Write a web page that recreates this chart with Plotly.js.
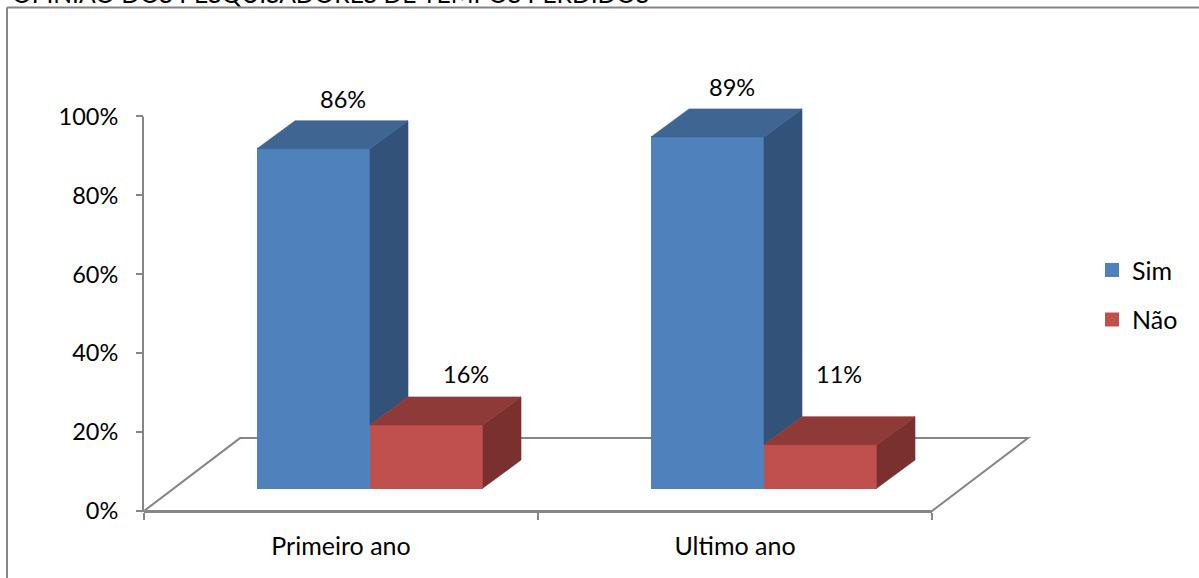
<!DOCTYPE html>
<html>
<head>
<meta charset="utf-8">
<script src="https://cdn.plot.ly/plotly-3.0.1.min.js"></script>
<style>
html,body{margin:0;padding:0;background:#fff;overflow:hidden}
#chart{position:absolute;left:0;top:0;width:1199px;height:578px}
</style>
</head>
<body>
<div id="chart"></div>
<script>
// Data
const categories = ["Primeiro ano", "Ultimo ano"];
const simValues = [86, 89];
const naoValues = [16, 11];
const simLabels = ["86%", "89%"];
const naoLabels = ["16%", "11%"];
const yTicks = [0, 20, 40, 60, 80, 100];
const chartTitle = "OPINIÃO DOS PESQUISADORES DE TEMPOS PERDIDOS";

// Look
const FONT = "Lato, 'Open Sans', sans-serif";
const yMax = 110;                      // headroom above 100% so the 3D tops are not clipped
const M = {l:144, r:267, t:76.5, b:67};
const W = 1199, H = 578;
const pw = W - M.l - M.r, ph = H - M.t - M.b;
const pxX = pw / 2;                    // pixels per category
const pxY = ph / yMax;                 // pixels per percent
const depthX = 38 / pxX, depthY = 28 / pxY;     // bar depth in axis units
const floorX = 96 / pxX, floorY = 73 / pxY;     // floor depth in axis units
const base = 23 / pxY;                 // bars stand on the floor, above the axis
const barW = 113 / pxX;
const simLeft = -84 / pxX;             // left edge of the first bar, from category centre
const LW = 2;                          // outline width of the front faces
const idx = categories.map((_, i) => i);
const paperX = px => (px - M.l) / pw;
const paperY = px => (H - M.b - px) / ph;

// floorVals: height of the neighbouring bar that hides the bottom of this bar's side face
function faces(left, vals, floorVals) {
  const top = {x:[], y:[]}, side = {x:[], y:[]};
  idx.forEach(i => {
    const a = i + left, b = a + barW, t = base + vals[i], f = base + floorVals[i];
    top.x.push(a, b, b + depthX, a + depthX, a, null);
    top.y.push(t, t, t + depthY, t + depthY, t, null);
    side.x.push(b, b + depthX, b + depthX, b, b, null);
    side.y.push(t, t + depthY, f + depthY, f, t, null);
  });
  return {top, side};
}
function poly(f, color, name) {
  return {type:"scatter", mode:"lines", x:f.x, y:f.y, fill:"toself", fillcolor:color,
          line:{color:color, width:0.6}, hoverinfo:"skip", showlegend:false, name:name, cliponaxis:false};
}
function front(name, left, vals, color) {
  return {type:"bar", name:name,
          x:idx.map(i => i + left + barW/2), y:vals, base:idx.map(() => base),
          width:barW - LW/pxX, marker:{color:color, line:{color:color, width:LW}},
          legendgroup:name, hovertemplate:"%{y}%<extra>"+name+"</extra>"};
}
const simF = faces(simLeft, simValues, naoValues);
const naoF = faces(simLeft + barW, naoValues, idx.map(() => 0));

const traces = [
  front("Sim", simLeft, simValues, "#4F81BD"),
  front("Não", simLeft + barW, naoValues, "#C0504D"),
  poly(simF.side, "#32527A", "Sim lado"),
  poly(simF.top, "#3F6593", "Sim topo"),
  poly(naoF.side, "#7A302E", "Não lado"),
  poly(naoF.top, "#8E3A38", "Não topo")
];

// Free-standing data labels: offsets from each bar's top-centre, in pixels
const labelShifts = [
  {dx:[29.5, 24.5], dy:[49.5, 50]},
  {dx:[39.5, 18.5], dy:[51, 71]}
];
function labels(left, vals, texts, shift) {
  return idx.map(i => ({
    x:i + left + barW/2, y:base + vals[i], xref:"x", yref:"y", text:texts[i],
    showarrow:false, xshift:shift.dx[i], yshift:shift.dy[i],
    xanchor:"center", yanchor:"middle", font:{family:FONT, size:23.5, color:"#000"}
  }));
}

const x0 = -0.5, x1 = 1.5;
const layout = {
  width:W, height:H, margin:M, paper_bgcolor:"#fff", plot_bgcolor:"rgba(0,0,0,0)",
  barmode:"overlay", font:{family:FONT, size:23.5, color:"#000"},
  xaxis:{range:[x0, x1], tickmode:"array", tickvals:idx, ticktext:categories, ticks:"",
         tickfont:{family:FONT, size:25, color:"#000"},
         ticklabelstandoff:12, showgrid:false, zeroline:false, showline:true, linecolor:"#868686", linewidth:2,
         minor:{tickmode:"array", tickvals:[-0.5, 0.5, 1.5], ticks:"outside", ticklen:7, tickwidth:1.5, tickcolor:"#868686", showgrid:false},
         fixedrange:true},
  yaxis:{range:[0, yMax], tickmode:"array", tickvals:yTicks, ticktext:yTicks.map(v => v + "%"), ticks:"outside",
         ticklen:7, tickwidth:1.5, tickcolor:"#868686", ticklabelstandoff:13, showgrid:false, zeroline:false,
         showline:false, fixedrange:true},
  legend:{x:paperX(1092), y:paperY(294.5), yanchor:"middle", xanchor:"left",
          orientation:"v", tracegroupgap:14, traceorder:"grouped", itemclick:false, itemdoubleclick:false,
          font:{family:FONT, size:25, color:"#000"}, bgcolor:"rgba(0,0,0,0)", borderwidth:0, itemwidth:30},
  shapes:[{type:"path", layer:"below", xref:"paper", yref:"paper",
           path:`M0,0 L${floorX/(x1-x0)},${floorY/yMax} L${1+floorX/(x1-x0)},${floorY/yMax} L1,0 Z`,
           line:{color:"#868686", width:2}, fillcolor:"rgba(0,0,0,0)"},
          // y-axis line, stopping at 100%
          {type:"line", layer:"below", xref:"paper", yref:"paper",
           x0:paperX(143), x1:paperX(143), y0:0, y1:100/yMax,
           line:{color:"#868686", width:2}},
          // chart-area frame, cropped by the page on its right and bottom sides
          {type:"line", layer:"below", xref:"paper", yref:"paper",
           x0:paperX(7), x1:paperX(W), y0:paperY(7), y1:paperY(7),
           line:{color:"#868686", width:2}},
          {type:"line", layer:"below", xref:"paper", yref:"paper",
           x0:paperX(7), x1:paperX(7), y0:paperY(7), y1:paperY(H),
           line:{color:"#868686", width:2}}],
  annotations:labels(simLeft, simValues, simLabels, labelShifts[0])
              .concat(labels(simLeft + barW, naoValues, naoLabels, labelShifts[1]))
              .concat([{xref:"paper", yref:"paper", x:paperX(10), y:paperY(9), xanchor:"left", yanchor:"bottom",
                        text:chartTitle, showarrow:false, font:{family:FONT, size:24.6, color:"#000"}}])
};
Plotly.newPlot("chart", traces, layout, {displayModeBar:false, responsive:false});
</script>
</body>
</html>
